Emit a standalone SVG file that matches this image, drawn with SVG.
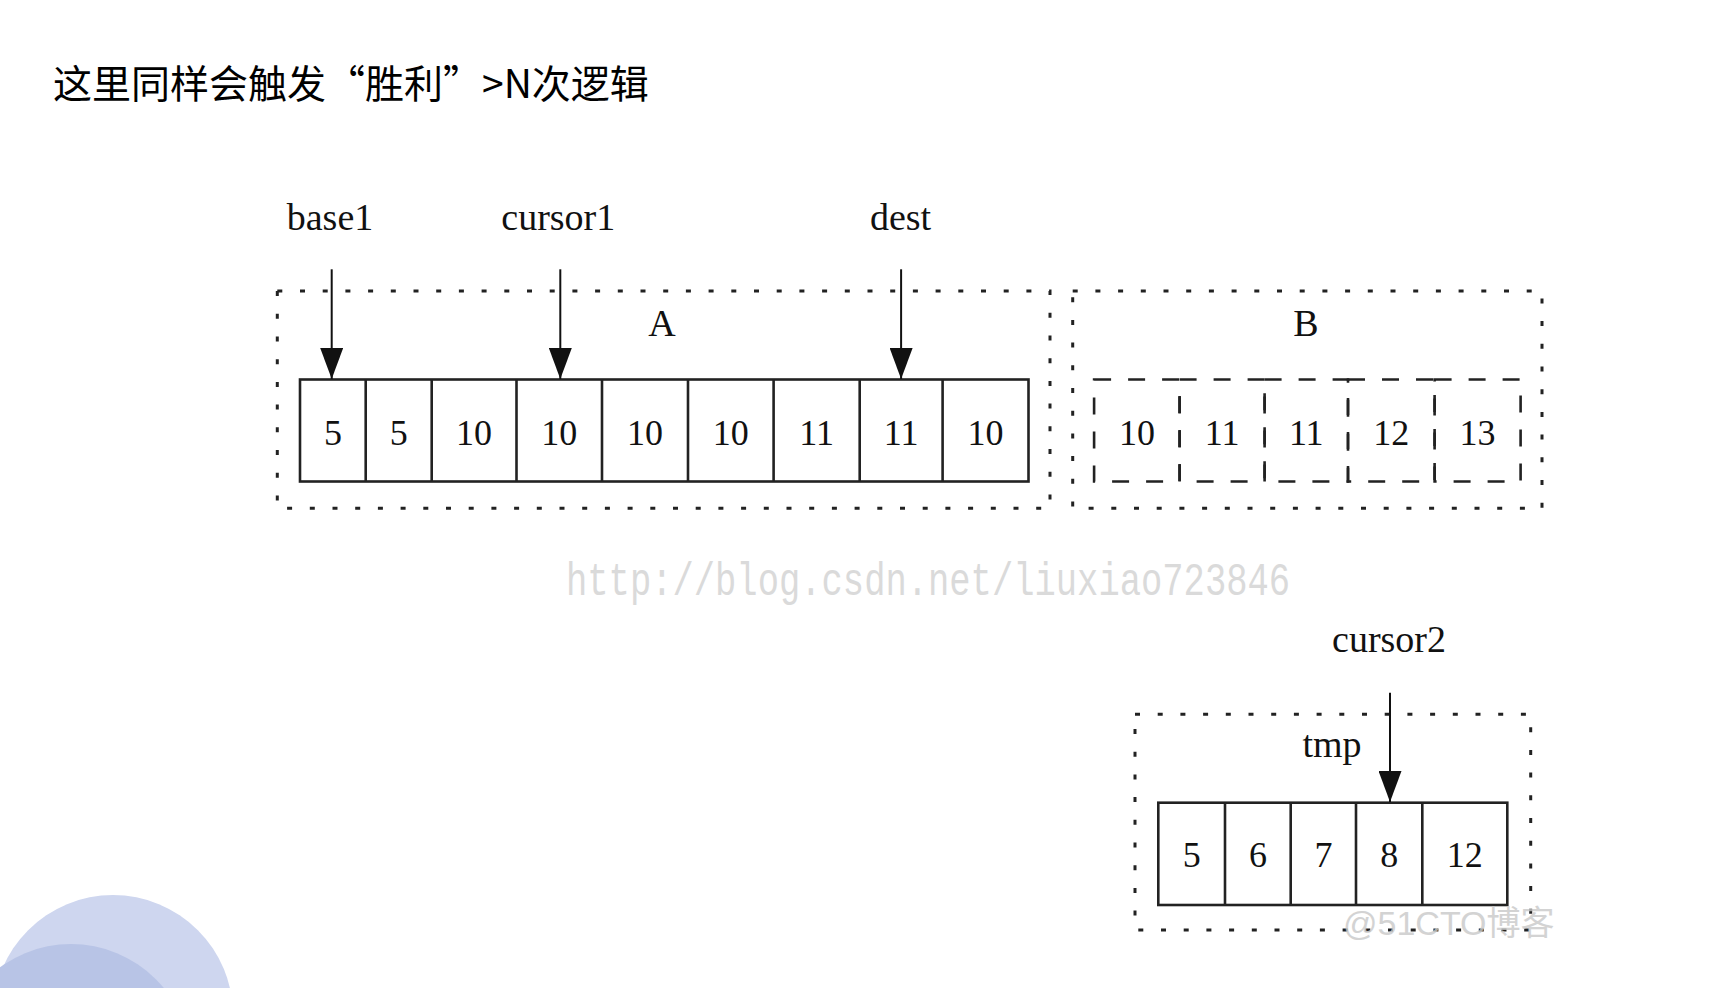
<svg xmlns="http://www.w3.org/2000/svg" width="1719" height="988" viewBox="0 0 1719 988">
  <style>
    .title { font-family: "Noto Sans CJK SC", "Noto Sans", sans-serif; font-size: 39px; fill: #000; }
    .lbl { font-family: "Liberation Serif", "Times New Roman", serif; font-size: 38px; fill: #111; text-anchor: middle; }
    .num { font-family: "Liberation Serif", "Times New Roman", serif; font-size: 36px; fill: #111; text-anchor: middle; }
    .cluster { fill: none; stroke: #222; stroke-width: 3; stroke-dasharray: 5 17.7; }
    .cell { fill: none; stroke: #222; stroke-width: 2.6; }
    .dcell { fill: none; stroke: #222; stroke-width: 2.6; stroke-dasharray: 17 17; }
    .edge { fill: none; stroke: #111; stroke-width: 2; marker-end: url(#arrow); }
    .wm1 { font-family: "Liberation Mono", "Courier New", monospace; font-size: 35.5px; fill: #dadada; }
    .wm2 { font-family: "Liberation Sans", "Noto Sans CJK SC", sans-serif; font-size: 34px; fill: #c9c9c9; opacity: 0.8; }
  </style>
  <defs>
    <marker id="arrow" viewBox="0 0 31 23" refX="31" refY="11.5" markerWidth="31" markerHeight="23" markerUnits="userSpaceOnUse" orient="auto">
      <path d="M0,0 L31,11.5 L0,23 Z" fill="#111"/>
    </marker>
  </defs>
  <rect width="1719" height="988" fill="#fff"/>

  <g id="decor">
    <circle cx="113" cy="1015" r="120" fill="#ced6ef"/>
    <circle cx="71" cy="1064" r="120" fill="#b8c4e6"/>
  </g>

  <text id="title" class="title" x="53" y="98">这里同样会触发“胜利”&gt;N次逻辑</text>

  <text id="wm-csdn" class="wm1" transform="translate(566,595) scale(1,1.3)">http://blog.csdn.net/liuxiao723846</text>

  <g id="clusterA">
    <rect class="cluster" x="277.3" y="291" width="772.7" height="217.3"/>
    <text class="lbl" x="662" y="336">A</text>
    <g id="arrayA">
      <rect class="cell" x="300" y="379.5" width="728.5" height="102"/>
      <path class="cell" d="M365.7,379.5V481.5M431.7,379.5V481.5M516.5,379.5V481.5M602,379.5V481.5M688,379.5V481.5M773.6,379.5V481.5M859.7,379.5V481.5M942.6,379.5V481.5"/>
      <text class="num" x="332.9" y="445">5</text>
      <text class="num" x="398.7" y="445">5</text>
      <text class="num" x="474.1" y="445">10</text>
      <text class="num" x="559.3" y="445">10</text>
      <text class="num" x="645" y="445">10</text>
      <text class="num" x="730.8" y="445">10</text>
      <text class="num" x="816.7" y="445">11</text>
      <text class="num" x="901.2" y="445">11</text>
      <text class="num" x="985.6" y="445">10</text>
    </g>
  </g>

  <g id="clusterB">
    <rect class="cluster" x="1072.7" y="291" width="469.3" height="217.3"/>
    <text class="lbl" x="1306" y="336">B</text>
    <g id="arrayB">
      <rect class="dcell" x="1094.1" y="379.5" width="85.5" height="102"/>
      <rect class="dcell" x="1179.6" y="379.5" width="85" height="102"/>
      <rect class="dcell" x="1264.6" y="379.5" width="83.4" height="102"/>
      <rect class="dcell" x="1348" y="379.5" width="86.6" height="102"/>
      <rect class="dcell" x="1434.6" y="379.5" width="86" height="102"/>
      <text class="num" x="1136.9" y="445">10</text>
      <text class="num" x="1222.1" y="445">11</text>
      <text class="num" x="1306.3" y="445">11</text>
      <text class="num" x="1391.3" y="445">12</text>
      <text class="num" x="1477.6" y="445">13</text>
    </g>
  </g>

  <g id="clusterTmp">
    <rect class="cluster" x="1135" y="714.3" width="395.7" height="215.7"/>
    <text class="lbl" x="1332" y="756.7">tmp</text>
    <g id="arrayTmp">
      <rect class="cell" x="1158.3" y="802.7" width="349" height="102.3"/>
      <path class="cell" d="M1225,802.7V905M1290.7,802.7V905M1356,802.7V905M1422.3,802.7V905"/>
      <text class="num" x="1191.7" y="867">5</text>
      <text class="num" x="1257.9" y="867">6</text>
      <text class="num" x="1323.4" y="867">7</text>
      <text class="num" x="1389.2" y="867">8</text>
      <text class="num" x="1464.8" y="867">12</text>
    </g>
  </g>

  <g id="label-base1"><text class="lbl" x="330" y="230">base1</text></g>
  <g id="label-cursor1"><text class="lbl" x="558.3" y="230">cursor1</text></g>
  <g id="label-dest"><text class="lbl" x="900.5" y="230">dest</text></g>
  <g id="label-cursor2"><text class="lbl" x="1389" y="652">cursor2</text></g>

  <g id="connectors">
    <line class="edge" x1="331.7" y1="269.3" x2="331.7" y2="379"/>
    <line class="edge" x1="560.3" y1="269.3" x2="560.3" y2="379"/>
    <line class="edge" x1="901.1" y1="269.3" x2="901.1" y2="379"/>
    <line class="edge" x1="1390" y1="692.7" x2="1390" y2="802"/>
  </g>

  <text id="wm-51cto" class="wm2" x="1343" y="935">@51CTO博客</text>
</svg>
